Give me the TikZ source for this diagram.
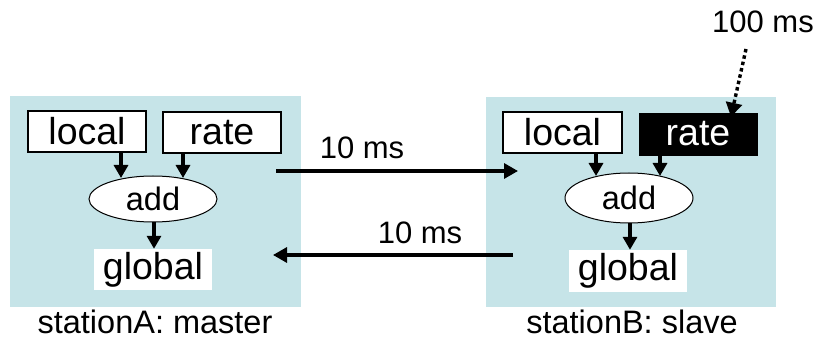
\documentclass[tikz,border=0pt]{standalone}
\usepackage{fontspec}
\setmainfont{Liberation Sans}
\usetikzlibrary{arrows.meta,shapes.geometric}
\definecolor{bgblue}{RGB}{198,228,232}
\tikzset{
  px/.style={x=1pt,y=-1pt},
  station/.style={fill=bgblue,draw=none},
  vbox/.style={draw=black,line width=1.2pt,fill=white,inner sep=0pt,font=\fontsize{37.5}{40}\selectfont},
  blackbox/.style={draw=black,fill=black,text=white,inner sep=0pt,font=\fontsize{37.5}{40}\selectfont},
  glob/.style={fill=white,inner sep=0pt,font=\fontsize{37.5}{40}\selectfont},
  addnode/.style={draw=black,line width=1pt,fill=white,ellipse,inner sep=0pt,font=\fontsize{32.5}{36}\selectfont},
  lbl/.style={font=\fontsize{31}{34}\selectfont,inner sep=0pt},
  sarr/.style={line width=3.2pt,-{Triangle[length=13pt,width=14pt]}},
  arr/.style={line width=3.2pt,-{Triangle[length=14pt,width=15pt]}},
  darr/.style={line width=3.4pt,dash pattern=on 3.5pt off 3pt,-{Triangle[length=14pt,width=16pt]}},
}
\begin{document}
\begin{tikzpicture}[px]
\useasboundingbox (0,0) rectangle (822,339);
% station backgrounds
\fill[station] (10,96) rectangle (301,307);
\fill[station] (486,97) rectangle (776,307);
% station A
\node[vbox,minimum width=118pt,minimum height=41pt] (al) at (87,131.5) {local};
\node[vbox,minimum width=118pt,minimum height=41pt] (ar) at (222,132.5) {rate};
\node[addnode,minimum width=128pt,minimum height=46pt] (aa) at (153,199) {add};
\node[glob,minimum width=118pt,minimum height=41pt] (ag) at (153,269.5) {global};
\draw[sarr] (al.south -| 121,0) -- (121,178);
\draw[sarr] (ar.south -| 183,0) -- (183,178);
\draw[sarr] (aa.south -| 154,0) -- (ag.north -| 154,0);
\node[lbl,font=\fontsize{32.5}{34}\selectfont] (la) at (155,322) {stationA: master};
% station B
\node[vbox,minimum width=119pt,minimum height=41pt] (bl) at (562.5,132.5) {local};
\node[blackbox,minimum width=118pt,minimum height=42pt] (br) at (698,134) {rate};
\node[addnode,minimum width=128pt,minimum height=50pt] (ba) at (629,198) {add};
\node[glob,minimum width=118pt,minimum height=42pt] (bg) at (628,271) {global};
\draw[sarr] (bl.south -| 596,0) -- (596,176);
\draw[sarr] (br.south -| 660,0) -- (660,176);
\draw[sarr] (ba.south -| 630,0) -- (bg.north -| 630,0);
\node[lbl,font=\fontsize{32.5}{34}\selectfont] (lb) at (632,322) {stationB: slave};
% timing
\coordinate (t1s) at (276,171);
\coordinate (t1e) at (518,171);
\draw[arr] (t1s) -- (t1e);
\node[lbl] (t1) at (362,148) {10 ms};
\coordinate (t2s) at (513,255);
\coordinate (t2e) at (273,255);
\draw[arr] (t2s) -- (t2e);
\node[lbl] (t2) at (420,233) {10 ms};
\node[lbl] (t3) at (763,22) {100 ms};
\draw[darr] (746,49) -- ([yshift=-4pt]br.north -| 731,0);
\end{tikzpicture}
\end{document}
